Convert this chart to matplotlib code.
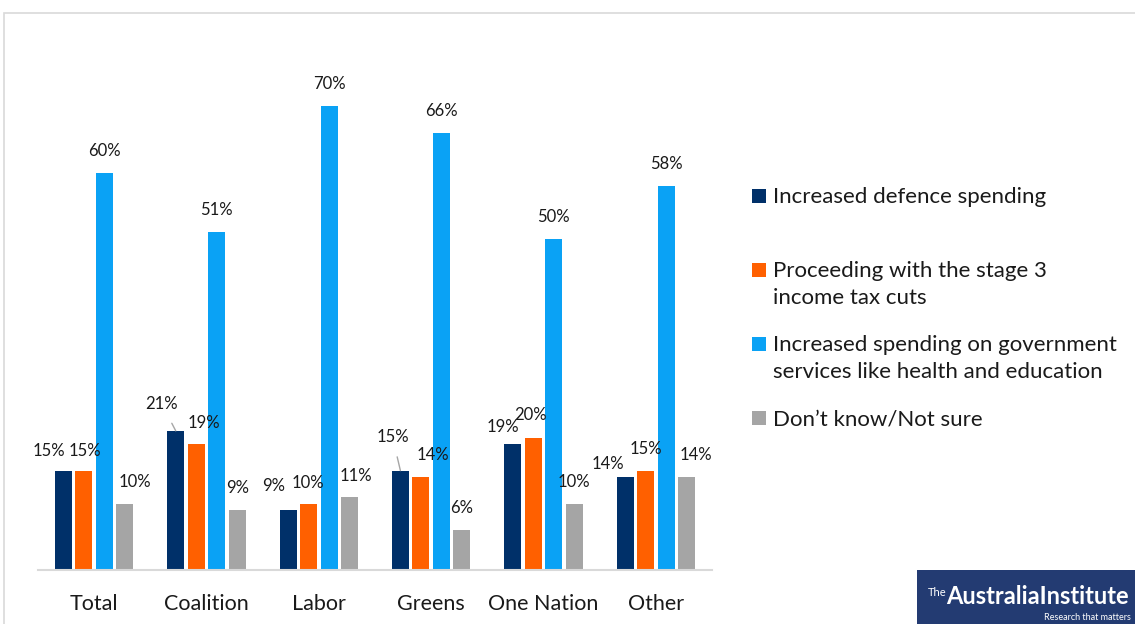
import matplotlib.pyplot as plt
from matplotlib.patches import Rectangle
import numpy as np

plt.rcParams["font.family"] = ["Lato", "DejaVu Sans"]

W, H = 1135, 624

parties = ["Total", "Coalition", "Labor", "Greens", "One Nation", "Other"]
series_names = [
    "Increased defence spending",
    "Proceeding with the stage 3\nincome tax cuts",
    "Increased spending on government\nservices like health and education",
    "Don\u2019t know/Not sure",
]
defence = [15, 21, 9, 15, 19, 14]
tax_cuts = [15, 19, 10, 14, 20, 15]
services = [60, 51, 70, 66, 50, 58]
not_sure = [10, 9, 11, 6, 10, 14]

colors = ["#003069", "#ff6000", "#0aa2f5", "#a5a5a5"]

# label nudges in pixels (dx, dy above bar top); default is centred, 22px up
label_nudge = {
    (0, 0): (-15, 20), (0, 1): (1, 20), (0, 3): (10, 22),
    (1, 0): (-14, 27), (1, 1): (8, 21),
    (2, 0): (-14, 24), (2, 1): (-1, 21), (2, 3): (6, 21),
    (3, 0): (-8, 34), (3, 1): (12, 22),
    (4, 0): (-10, 17), (4, 1): (-3, 22),
    (5, 0): (-17, 13), (5, 3): (9, 22),
}
leader_lines = {(1, 0), (3, 0)}

fig = plt.figure(figsize=(W / 100, H / 100), dpi=100)

# light frame around the chart area
fig.patches.append(
    Rectangle((4 / W, -0.01), 1.0, (H - 13) / H + 0.01, transform=fig.transFigure,
              fill=False, edgecolor="#d9d9d9", linewidth=1.2)
)

ax = fig.add_axes([38 / W, (H - 570) / H, 674 / W, 530 / H])
ax.set_xlim(-0.5, len(parties) - 0.5)
ax.set_ylim(0, 80)

x = np.arange(len(parties))
step = 0.1825
width = 0.151
all_series = [defence, tax_cuts, services, not_sure]
for i, (vals, col) in enumerate(zip(all_series, colors)):
    xs = x + (i - 1.5) * step
    ax.bar(xs, vals, width=width, color=col, zorder=2)
    for g, (xv, v) in enumerate(zip(xs, vals)):
        dx, dy = label_nudge.get((g, i), (0, 22))
        arrow = None
        if (g, i) in leader_lines:
            arrow = dict(arrowstyle="-", color="#a6a6a6", lw=1,
                         shrinkA=7, shrinkB=0)
        ax.annotate(f"{v}%", xy=(xv, v), xytext=(dx, dy),
                    textcoords="offset pixels", ha="center", va="center",
                    fontsize=12, color="#1a1a1a", arrowprops=arrow)

for s in ["top", "right", "left"]:
    ax.spines[s].set_visible(False)
ax.spines["bottom"].set_color("#d9d9d9")
ax.spines["bottom"].set_linewidth(1.5)
ax.set_yticks([])
ax.set_xticks(x)
ax.set_xticklabels(parties, fontsize=15.5, color="#1a1a1a")
ax.tick_params(axis="x", length=0, pad=17)

# legend drawn by hand to keep the uneven spacing
legend_y = [196, 270, 344, 418]
for name, col, yy in zip(series_names, colors, legend_y):
    fig.patches.append(
        Rectangle((752 / W, (H - yy - 7) / H), 14 / W, 14 / H,
                  transform=fig.transFigure, facecolor=col, edgecolor="none")
    )
    fig.text(773 / W, (H - yy + 9) / H, name, fontsize=16, color="#1a1a1a",
             va="top", ha="left", linespacing=1.45)

# institute badge in the corner
fig.patches.append(
    Rectangle((917 / W, 0), (W - 917) / W, 54 / H, transform=fig.transFigure,
              facecolor="#233b72", edgecolor="none")
)
fig.text(928 / W, (H - 592) / H, "The", fontsize=8, color="white",
         va="center", ha="left")
fig.text(946 / W, (H - 597) / H, "AustraliaInstitute", fontsize=17,
         color="white", fontweight="bold", va="center", ha="left")
fig.text(1131 / W, (H - 617) / H, "Research that matters", fontsize=6.5,
         color="white", va="center", ha="right")

fig.savefig("out.png", dpi=100)
